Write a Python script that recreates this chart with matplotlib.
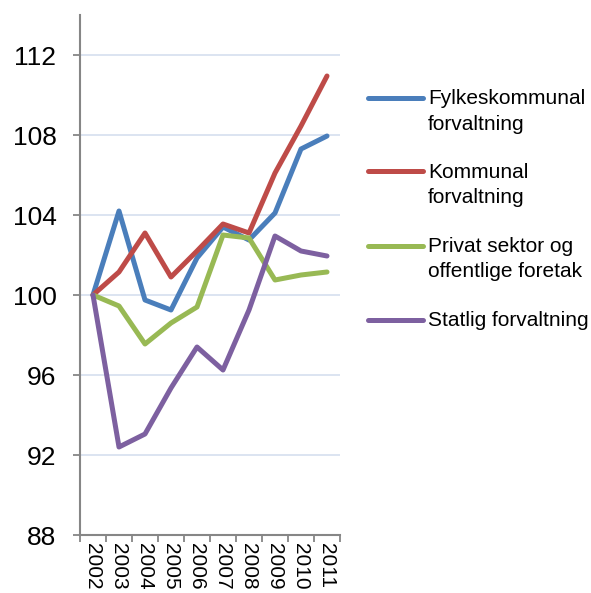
import matplotlib
matplotlib.use("Agg")
import matplotlib.pyplot as plt
from matplotlib.lines import Line2D
import numpy as np

plt.rcParams['font.family'] = ['Liberation Sans', 'DejaVu Sans']

years = ['2002', '2003', '2004', '2005', '2006', '2007', '2008', '2009', '2010', '2011']

fylkeskommunal = [100, 104.2, 99.75, 99.25, 101.85, 103.4, 102.75, 104.1, 107.3, 107.95]
kommunal = [100, 101.15, 103.1, 100.9, 102.2, 103.55, 103.1, 106.1, 108.45, 110.95]
privat = [100, 99.45, 97.55, 98.6, 99.4, 103.0, 102.85, 100.75, 101.0, 101.15]
statlig = [100, 92.4, 93.05, 95.35, 97.4, 96.25, 99.25, 102.95, 102.2, 101.95]

series_labels = ['Fylkeskommunal\nforvaltning', 'Kommunal\nforvaltning',
                 'Privat sektor og\noffentlige foretak', 'Statlig forvaltning']
series_colors = ['#4A7EBB', '#BE4B48', '#98B954', '#7D60A0']

y_ticks = [88, 92, 96, 100, 104, 108, 112]

fig = plt.figure(figsize=(5.91, 5.93), dpi=100)
ax = fig.add_axes([80 / 591, 58 / 593, 260 / 591, 520 / 593])

x = np.arange(len(years))
for values, color in zip([fylkeskommunal, kommunal, privat, statlig], series_colors):
    ax.plot(x, values, color=color, lw=3.6, solid_capstyle='round', solid_joinstyle='round', zorder=3)

ax.set_xlim(-0.5, len(years) - 0.5)
ax.set_ylim(88, 114)
ax.set_yticks(y_ticks)
ax.set_yticklabels([str(t) for t in y_ticks], fontsize=19)
ax.yaxis.grid(True, color='#D9E2F0', lw=1.3)
ax.set_axisbelow(True)

ax.set_xticks(x)
ax.set_xticklabels(years, rotation=270, fontsize=15, va='top', ha='center')
ax.set_xticks(np.arange(len(years) + 1) - 0.5, minor=True)
ax.tick_params(axis='x', which='major', length=0, pad=6)
ax.tick_params(axis='x', which='minor', length=5, width=1.3, color='#868686')
ax.tick_params(axis='y', length=5, width=1.3, color='#868686', pad=12)

for side in ['top', 'right']:
    ax.spines[side].set_visible(False)
for side in ['left', 'bottom']:
    ax.spines[side].set_color('#868686')
    ax.spines[side].set_linewidth(1.5)

# legend drawn by hand so the line sits on the first text row
row_y = [98, 171.5, 245.5, 319.5]
for label, color, ry in zip(series_labels, series_colors, row_y):
    yf = 1 - ry / 593
    fig.add_artist(Line2D([368 / 591, 423 / 591], [yf, yf], color=color, lw=3.6,
                          solid_capstyle='round', transform=fig.transFigure))
    fig.text(428 / 591, 1 - (ry - 9) / 593, label, fontsize=15, va='top', ha='left',
             linespacing=1.45)

fig.savefig('out.png', dpi=100)
